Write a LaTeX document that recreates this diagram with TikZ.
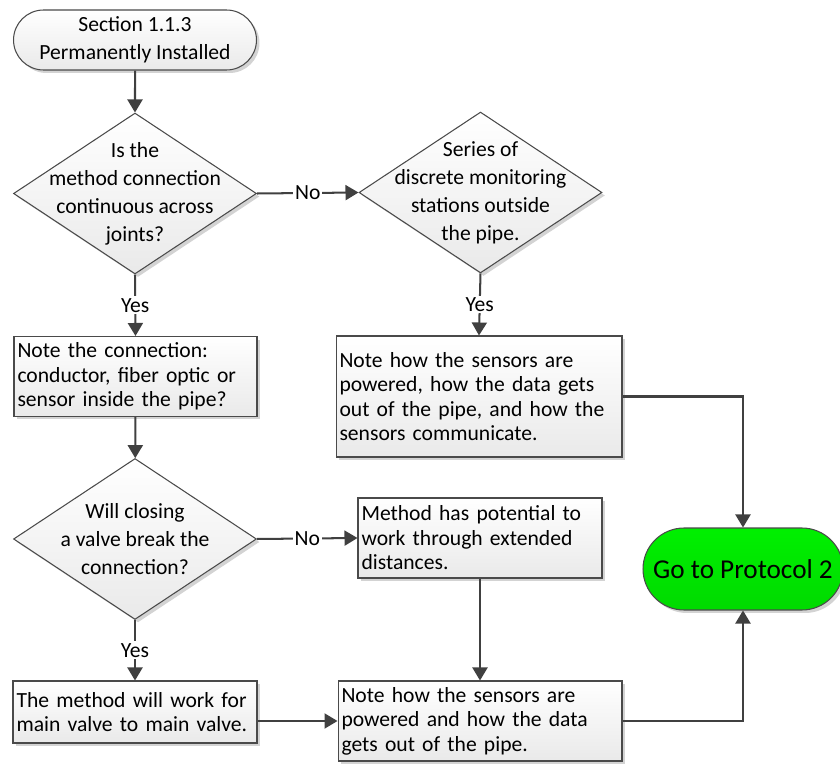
\documentclass[tikz,border=0pt]{standalone}
\usepackage{fontspec}
\setmainfont{Carlito}
\usetikzlibrary{shapes.geometric,shapes.misc,arrows.meta,shadows}
\definecolor{edgegray}{HTML}{404040}
\definecolor{outline}{HTML}{4A4A4A}
\definecolor{gotop}{HTML}{00F000}
\definecolor{gobottom}{HTML}{00DA00}
\tikzset{
  shapebase/.style={draw=outline, line width=0.6pt,
    top color=white, bottom color=gray!17,
    drop shadow={shadow xshift=0.06cm, shadow yshift=-0.06cm, opacity=0.35, fill=gray}},
  terminal/.style={shapebase, rounded rectangle, align=center, inner sep=0pt,
    font=\fontsize{12.3}{15.9}\selectfont},
  decision/.style={shapebase, diamond, minimum width=4.86cm, minimum height=3.22cm, inner sep=0pt},
  decisiontext/.style={align=center, font=\fontsize{12.3}{15.9}\selectfont},
  process/.style={shapebase, rectangle, align=left, inner sep=0.07cm},
  flow/.style={draw=edgegray, line width=1.15pt, -{Triangle[length=0.26cm,width=0.3cm]}},
  tag/.style={fill=white, inner sep=1pt}
}
\begin{document}
\begin{tikzpicture}[x=0.02cm, y=-0.02cm, font=\fontsize{12.3}{13.9}\selectfont]
\useasboundingbox (0,0) rectangle (840,764);

% start
\node[terminal, minimum width=4.86cm, minimum height=1.2cm] (start) at (135,40)
  {Section 1.1.3\\Permanently Installed};

% first question and its alternative
\node[decision] (d1) at (135,193.5) {};
\node[decisiontext] (d1t) at (d1) {Is the\\method connection\\continuous across\\joints?};
\node[decision] (d2) at (480.5,192.5) {};
\node[decisiontext] (d2t) at (d2) {Series of\\discrete monitoring\\stations outside\\the pipe.};

% notes after the first question
\node[process, text width=4.72cm, minimum height=1.6cm] (b1) at (135.5,376.5)
  {Note the connection:\\conductor, fiber optic or\\sensor inside the pipe?};
\node[process, text width=5.58cm, minimum height=2.42cm] (b2) at (479,396.5)
  {Note how the sensors are\\powered, how the data gets\\out of the pipe, and how the\\sensors communicate.};

% second question
\node[decision] (d3) at (135,539) {};
\node[decisiontext] (d3t) at (d3) {Will closing\\a valve break the\\connection?};
\node[process, text width=4.74cm, minimum height=1.6cm] (b3) at (480,538)
  {Method has potential to\\work through extended\\distances.};

% bottom row
\node[process, text width=4.74cm, minimum height=1.24cm] (b5) at (135,712)
  {The method will work for\\main valve to main valve.};
\node[process, text width=5.54cm, minimum height=1.6cm] (b4) at (480,721)
  {Note how the sensors are\\powered and how the data\\gets out of the pipe.};

% end
\node[terminal, minimum width=4cm, minimum height=1.64cm, top color=gotop, bottom color=gobottom,
  font=\fontsize{15.5}{18}\selectfont] (go) at (743,569) {Go to Protocol 2};

% connectors
\draw[flow] (start) -- (d1);
\draw[flow] (d1.east) -- node[tag] {No} (d2.west);
\draw[flow] (d1.south) -- node[tag] {Yes} (b1.north);
\draw[flow] (d2.south) -- node[tag] {Yes} (b2.north);
\draw[flow] (b1) -- (d3);
\draw[flow] (d3.east) -- node[tag] {No} (b3.west);
\draw[flow] (d3.south) -- node[tag] {Yes} (b5.north);
\draw[flow] (b3) -- (b4);
\draw[flow] (b4.west -| b5.east) -- (b4.west);
\draw[flow] (b2.east) -| (go.north);
\draw[flow] (b4.east) -| (go.south);
\end{tikzpicture}
\end{document}
